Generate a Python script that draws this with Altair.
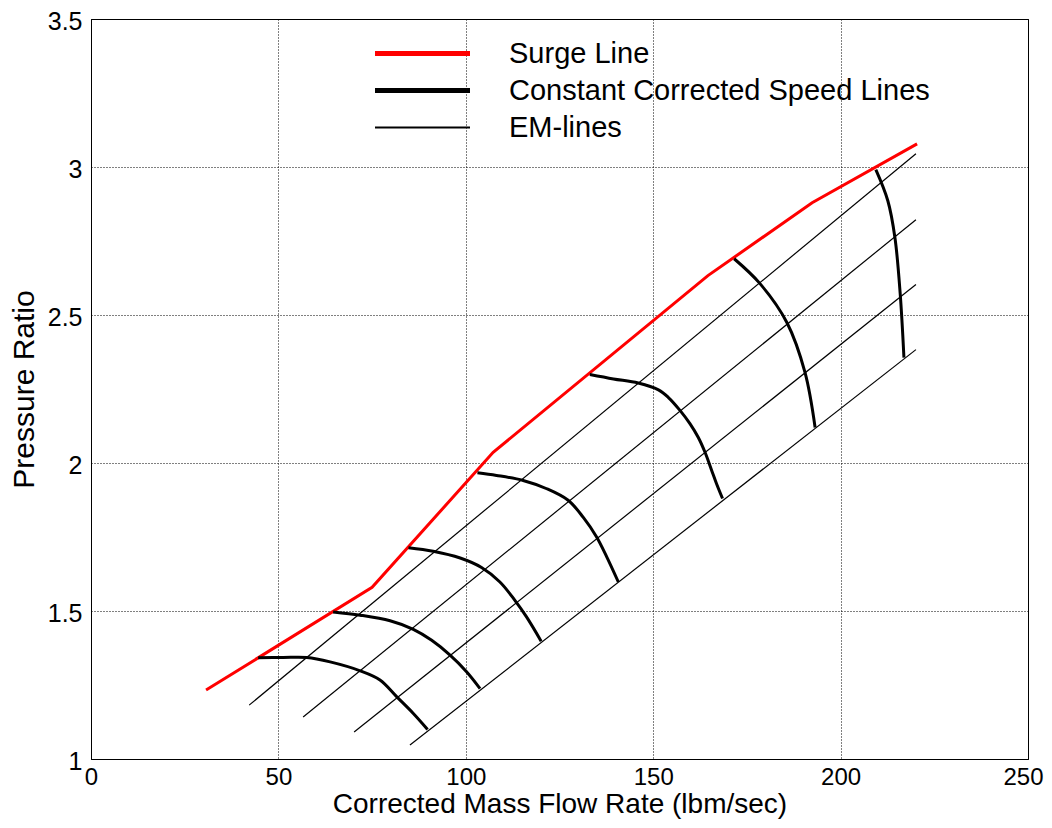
import altair as alt
import pandas as pd

# ---- data ----
surge_x = [30.7, 75.0, 107.3, 164.6, 192.4, 220.4]
surge_y = [1.233, 1.580, 2.036, 2.633, 2.879, 3.078]

speed1_x = [44.6, 51.3, 57.6, 63.8, 71.8, 77.1, 81.6, 86.0, 89.8]
speed1_y = [1.342, 1.343, 1.343, 1.328, 1.298, 1.267, 1.210, 1.154, 1.100]
speed2_x = [64.6, 71.8, 79.8, 86.0, 90.9, 95.8, 100.2, 103.8]
speed2_y = [1.497, 1.486, 1.467, 1.438, 1.401, 1.351, 1.295, 1.238]
speed3_x = [84.7, 91.3, 98.5, 104.2, 109.1, 113.1, 116.2, 120.1]
speed3_y = [1.714, 1.702, 1.679, 1.647, 1.598, 1.536, 1.480, 1.398]
speed4_x = [103.1, 108.2, 115.3, 121.6, 127.3, 131.3, 134.9, 137.6, 140.7]
speed4_y = [1.967, 1.958, 1.941, 1.913, 1.874, 1.817, 1.750, 1.683, 1.598]
speed5_x = [133.1, 139.4, 146.0, 151.4, 154.0, 157.2, 159.8, 162.0, 163.8, 165.6, 166.9, 168.5]
speed5_y = [2.299, 2.284, 2.270, 2.247, 2.222, 2.177, 2.133, 2.087, 2.037, 1.975, 1.930, 1.880]
speed6_x = [171.6, 178.5, 185.7, 190.5, 193.2]
speed6_y = [2.690, 2.606, 2.474, 2.306, 2.120]
speed7_x = [209.4, 212.6, 214.5, 215.9, 216.9]
speed7_y = [2.991, 2.886, 2.761, 2.572, 2.356]

em1_x = [42.2, 220.1]
em1_y = [1.182, 3.045]
em2_x = [56.6, 220.1]
em2_y = [1.142, 2.822]
em3_x = [70.2, 220.1]
em3_y = [1.091, 2.603]
em4_x = [85.1, 220.1]
em4_y = [1.047, 2.383]

names = ["Surge Line", "Constant Corrected Speed Lines", "EM-lines"]
widths = [3.0, 3.0, 1.2]
x_ticks = [0, 50, 100, 150, 200, 250]
y_ticks = [1, 1.5, 2, 2.5, 3, 3.5]

rows = []
def add(kind, lid, xs, ys):
    w = widths[names.index(kind)]
    for i, (a, b) in enumerate(zip(xs, ys)):
        rows.append({"kind": kind, "line": lid, "i": i, "x": a, "y": b, "w": w})

for k, (xs, ys) in enumerate([(em1_x, em1_y), (em2_x, em2_y), (em3_x, em3_y), (em4_x, em4_y)]):
    add(names[2], f"em{k}", xs, ys)
for k, (xs, ys) in enumerate([(speed1_x, speed1_y), (speed2_x, speed2_y), (speed3_x, speed3_y),
                              (speed4_x, speed4_y), (speed5_x, speed5_y), (speed6_x, speed6_y),
                              (speed7_x, speed7_y)]):
    add(names[1], f"sp{k}", xs, ys)
add(names[0], "surge", surge_x, surge_y)
df = pd.DataFrame(rows)

FONT = "Liberation Sans"

leg = alt.Legend(
    title=None, orient="none", legendX=317, legendY=20,
    symbolType="M-5,0H5", symbolSize=361,
    symbolStrokeWidth={"expr": "datum.value === 'EM-lines' ? 2 : 5"},
    labelFontSize=29, labelFont=FONT, labelColor="black", labelOffset=72,
    labelLimit=0, padding=0, rowPadding=7,
)

x_enc = alt.X("x:Q", scale=alt.Scale(domain=[0, 250], nice=False),
              axis=alt.Axis(values=x_ticks, title="Corrected Mass Flow Rate (lbm/sec)",
                            labelPadding=6, labelFontSize=24, titlePadding=1, titleFontSize=28,
                            labelFlush=False,
                            labelOffset={"condition": {"test": "datum.value === 250", "value": -5},
                                         "value": 0}))
y_enc = alt.Y("y:Q", scale=alt.Scale(domain=[1, 3.5], nice=False, zero=False),
              axis=alt.Axis(values=y_ticks, format="~g", title="Pressure Ratio",
                            labelPadding=9, titlePadding=8, labelFlush=False, labelOffset=2))
c_enc = alt.Color("kind:N", sort=names,
                  scale=alt.Scale(domain=names, range=["#ff0000", "#000000", "#000000"]),
                  legend=leg)

base = alt.Chart(df).encode(x=x_enc, y=y_enc, color=c_enc,
                            strokeWidth=alt.StrokeWidth("w:Q", scale=None, legend=None),
                            detail="line:N", order="i:Q")

straight = base.mark_line().transform_filter(alt.datum.kind != names[1])
curved = base.mark_line(interpolate="catmull-rom").transform_filter(alt.datum.kind == names[1])

chart = alt.layer(straight, curved).properties(
    width=937, height=740,
    autosize=alt.AutoSizeParams(type="none"),
    padding={"left": 83, "top": 11, "right": 16, "bottom": 61},
).configure_view(
    stroke="black", strokeWidth=1
).configure_axis(
    domainColor="black", grid=True, gridColor="black", gridDash=[1, 2], gridOpacity=1,
    gridWidth=1, ticks=False, labelFont=FONT, labelFontSize=25, labelColor="black",
    titleFont=FONT, titleFontSize=30, titleFontWeight="normal", titleColor="black",
)

chart.save("out.html", embed_options={"renderer": "svg", "actions": False})
